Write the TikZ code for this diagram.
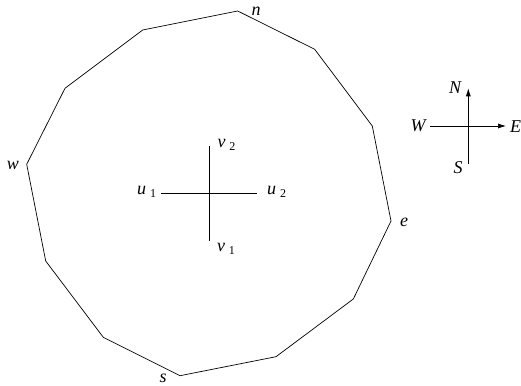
\documentclass[tikz,border=0pt]{standalone}
\usepackage{fontspec}
\setmainfont{Liberation Serif}
\usetikzlibrary{arrows.meta, positioning}

\newcommand{\idx}[1]{\hspace{4pt}\raisebox{-0.3ex}{\fontsize{12}{14}\selectfont\upshape #1}}

\begin{document}
\begin{tikzpicture}[
  x=1pt, y=-1pt,
  line width=0.7pt,
  lbl/.style={font=\fontsize{18}{21}\selectfont\itshape, inner sep=1pt},
  arrow/.style={-{Latex[length=8pt,width=5pt]}}
]
  \useasboundingbox (0,0) rectangle (521,385);
  % outer boundary
  \coordinate (p1) at (237.7,11);
  \coordinate (p2) at (314.7,49.3);
  \coordinate (p3) at (372.3,126);
  \coordinate (p4) at (391,221);
  \coordinate (p5) at (353.3,299);
  \coordinate (p6) at (276,356.7);
  \coordinate (p7) at (180,375.7);
  \coordinate (p8) at (103.3,337.3);
  \coordinate (p9) at (45.7,261);
  \coordinate (p10) at (26.7,164.3);
  \coordinate (p11) at (65,88.3);
  \coordinate (p12) at (142.7,30);
  \draw (p1) -- (p2) -- (p3) -- (p4) -- (p5) -- (p6) -- (p7) -- (p8)
        -- (p9) -- (p10) -- (p11) -- (p12) -- cycle;
  \node[lbl] (n) at (256,11) {n};
  \node[lbl] (e) at (404,222) {e};
  \node[lbl] (s) at (163,378) {s};
  \node[lbl] (w) at (13,165) {w};
  % inner cross
  \coordinate (c1) at (161,193.3);
  \coordinate (c2) at (256.7,193.3);
  \coordinate (c3) at (209,240.7);
  \coordinate (c4) at (209,145.7);
  \draw (c1) -- (c2);
  \draw (c3) -- (c4);
  \node[lbl] (u1) at (146.5,192) {u\idx{1}};
  \node[lbl] (u2) at (276.5,192) {u\idx{2}};
  \node[lbl] (v1) at (226,249) {v\idx{1}};
  \node[lbl] (v2) at (226.5,145) {v\idx{2}};
  % compass
  \coordinate (cs) at (468.3,164.3);
  \coordinate (cn) at (468.3,88.3);
  \coordinate (cw) at (430,126);
  \coordinate (ce) at (506,126);
  \draw[arrow] (cs) -- (cn);
  \draw[arrow] (cw) -- (ce);
  \node[lbl] (N) at (455,88) {N};
  \node[lbl] (W) at (418,126) {W};
  \node[lbl] (E) at (515.5,127) {E};
  \node[lbl] (S) at (458,168) {S};
\end{tikzpicture}
\end{document}
